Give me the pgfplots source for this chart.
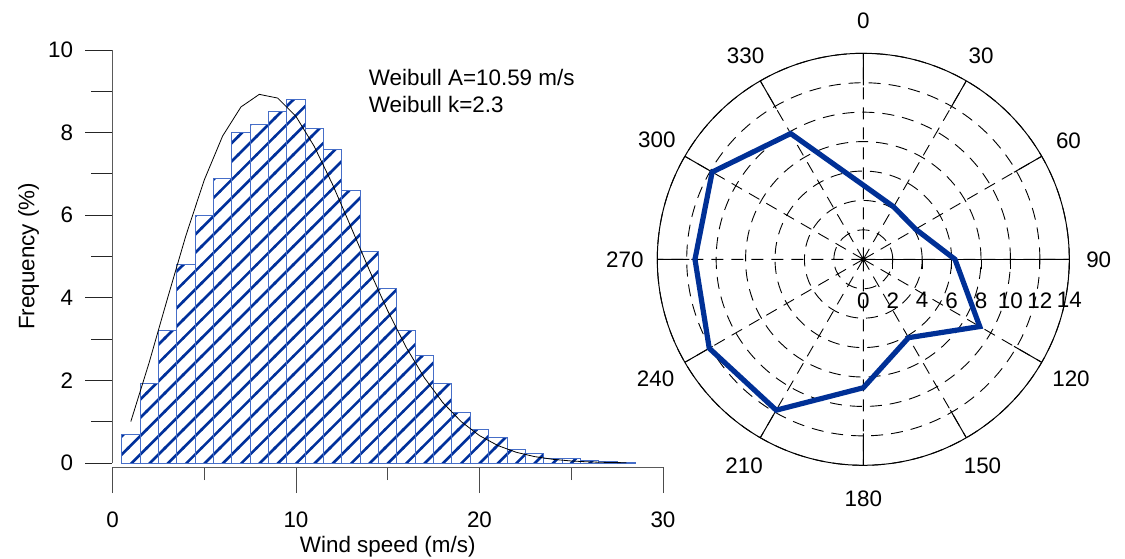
\documentclass[border=0pt]{standalone}
\usepackage{fontspec}
\setmainfont{Liberation Sans}
\usepackage{pgfplots}
\pgfplotsset{compat=1.18}
\usepgfplotslibrary{polar}
\usetikzlibrary{patterns}
\definecolor{hatch}{RGB}{0,48,155}
\definecolor{barline}{RGB}{70,110,200}
\definecolor{rose}{RGB}{0,48,150}
\definecolor{axisgray}{RGB}{90,90,90}
\newcommand{\fs}{\fontsize{11.2}{13.4}\selectfont}
\pgfdeclarepatternformonly{bighatch}{\pgfqpoint{-1pt}{-1pt}}{\pgfqpoint{10.2pt}{10.2pt}}{\pgfqpoint{9.165pt}{9.165pt}}{%
  \pgfsetlinewidth{1.3pt}%
  \pgfpathmoveto{\pgfqpoint{-0.4pt}{-0.4pt}}%
  \pgfpathlineto{\pgfqpoint{9.565pt}{9.565pt}}%
  \pgfusepath{stroke}}
\begin{document}
\begin{tikzpicture}[font=\fs]
\path[use as bounding box] (-56.25pt,-47.5pt) rectangle (506.25pt,231.5pt);
\begin{axis}[
  at={(0,0)}, anchor=south west,
  width=275.25pt, height=206.5pt, scale only axis,
  xmin=0, xmax=30, ymin=0, ymax=10,
  axis x line=none, axis y line*=left,
  axis line style={-, draw=axisgray, line width=0.5pt},
  ytick={0,2,...,10}, minor ytick={1,3,...,9},
  tick align=outside,
  major tick length=13.5pt, minor tick length=10.5pt,
  ytick style={draw=black!85, line width=0.5pt},
  /pgf/number format/assume math mode=true,
  yticklabel style={font=\fs, inner sep=1pt, xshift=-5pt},
  ylabel={Frequency (\%)},
  ylabel style={font=\fs},
  clip=false,
]
\addplot[ybar interval, draw=barline, line width=0.5pt,
  pattern=bighatch, pattern color=hatch]
  coordinates {(0.5,0.70)(1.5,1.92)(2.5,3.21)(3.5,4.81)(4.5,6.00)(5.5,6.90)(6.5,8.00)(7.5,8.19)(8.5,8.50)(9.5,8.80)(10.5,8.10)(11.5,7.60)(12.5,6.60)(13.5,5.11)(14.5,4.22)(15.5,3.22)(16.5,2.61)(17.5,1.92)(18.5,1.22)(19.5,0.81)(20.5,0.62)(21.5,0.32)(22.5,0.22)(23.5,0.12)(24.5,0.10)(25.5,0.06)(26.5,0.04)(27.5,0.02)(28.5,0.02)};
\addplot[black, line width=0.4pt] coordinates {(1,1.006)(2,2.435)(3,3.989)(4,5.506)(5,6.852)(6,7.916)(7,8.621)(8,8.926)(9,8.836)(10,8.392)(11,7.662)(12,6.737)(13,5.710)(14,4.668)(15,3.683)(16,2.804)(17,2.061)(18,1.463)(19,1.003)(20,0.663)(21,0.423)(22,0.260)(23,0.155)(24,0.089)(25,0.049)(26,0.026)(27,0.013)(28,0.0065)};
\node[anchor=north west, align=left, inner sep=0pt, font=\fs] at (axis cs:13.95,9.55) {Weibull A=10.59 m/s\\Weibull k=2.3};
\end{axis}
\begin{axis}[
  at={(0,-2pt)}, anchor=south west,
  width=275.25pt, height=206.5pt, scale only axis,
  xmin=0, xmax=30, ymin=0, ymax=10,
  axis y line=none, axis x line*=bottom,
  axis line style={-, draw=axisgray, line width=0.5pt},
  xtick={0,10,20,30}, minor xtick={5,15,25},
  tick align=outside,
  major tick length=13pt, minor tick length=6.5pt,
  xtick style={draw=black!70, line width=0.5pt},
  /pgf/number format/assume math mode=true,
  xticklabel style={font=\fs, inner sep=1pt, yshift=-8pt},
  xlabel={Wind speed (m/s)},
  xlabel style={font=\fs, inner sep=0pt, yshift=-3.5pt},
]
\addplot[draw=none] coordinates {(0,0)};
\end{axis}
\begin{polaraxis}[
  at={(375.4pt,101.85pt)}, anchor=center,
  width=206pt, height=206pt, scale only axis,
  xmin=0, xmax=360, ymin=0, ymax=14,
  xtick={0,30,...,330},
  xticklabels={},
  ytick={0,2,...,14},
  grid=major,
  major grid style={black, line width=0.45pt, dash pattern=on 6pt off 4pt},
  axis line style={black, line width=0.5pt},
  tick align=outside,
  major tick length=16pt,
  xtick style={black, line width=0.5pt, /pgfplots/major tick length=16pt},
  ytick style={black, line width=0.5pt, /pgfplots/major tick length=5pt},
  /pgf/number format/assume math mode=true,
  yticklabel style={font=\fs, anchor=north, yshift=-29pt},
  clip=false,
]
\addplot[rose, line width=2.6pt] coordinates {(90,5.04)(60,4.12)(30,4.10)(0,6.23)(330,9.14)(300,6.15)(270,8.73)(240,11.84)(210,12.09)(180,11.44)(150,11.86)(120,9.87)(90,5.04)};
\node[font=\fs] at (axis cs:90,16.2) {0};
\node[font=\fs] at (axis cs:60,16.0) {30};
\node[font=\fs] at (axis cs:30,16.1) {60};
\node[font=\fs] at (axis cs:0,16.0) {90};
\node[font=\fs] at (axis cs:330,16.3) {120};
\node[font=\fs] at (axis cs:300,16.2) {150};
\node[font=\fs] at (axis cs:270,16.3) {180};
\node[font=\fs] at (axis cs:240,16.2) {210};
\node[font=\fs] at (axis cs:210,16.3) {240};
\node[font=\fs] at (axis cs:180,16.2) {270};
\node[font=\fs] at (axis cs:150,16.2) {300};
\node[font=\fs] at (axis cs:120,16.0) {330};
\end{polaraxis}
\end{tikzpicture}
\end{document}
